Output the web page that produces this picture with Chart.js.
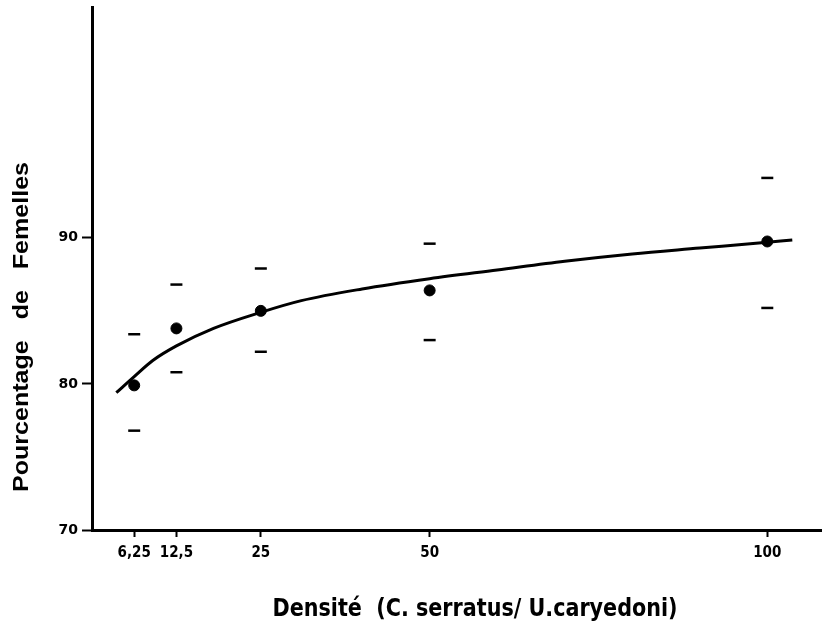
<!DOCTYPE html>
<html>
<head>
<meta charset="utf-8">
<script src="https://cdn.jsdelivr.net/npm/chart.js@4"></script>
<style>
    html, body { margin: 0; padding: 0; background: #fff; }
    #wrap { width: 822px; height: 633px; }
</style>
</head>
<body>
<div id="wrap"><canvas id="densityChart" width="822" height="633"></canvas></div>
<script>
// Densité (C. serratus / U. caryedoni) vs pourcentage de femelles
const densites = [6.25, 12.5, 25, 50, 100];
const densiteLabels = ['6,25', '12,5', '25', '50', '100'];
const femelles = [79.9, 83.8, 85.0, 86.4, 89.75];
const borneHaute = [83.4, 86.8, 87.9, 89.6, 94.1];
const borneBasse = [76.8, 80.8, 82.2, 83.0, 85.2];
const yTicks = [70, 80, 90];

// courbe d'ajustement
const courbeX = [3.6, 6.25, 9, 12.5, 18, 25, 31, 40, 50, 60, 70, 80, 90, 100, 103.7];
const courbeY = [79.4, 80.5, 81.6, 82.6, 83.8, 84.9, 85.7, 86.5, 87.2, 87.8, 88.4, 88.9, 89.3, 89.7, 89.85];

const titreX = 'Densité  (C. serratus/ U.caryedoni)';
const titreY = 'Pourcentage   de   Femelles';

const toPoints = (xs, ys) => xs.map((x, i) => ({ x: x, y: ys[i] }));

// titres des axes (police condensée, largeur ajustée comme sur la figure)
const axisTitles = {
    id: 'axisTitles',
    afterDraw(chart) {
        const c = chart.ctx;
        const area = chart.chartArea;

        c.save();
        c.fillStyle = '#000';
        c.textAlign = 'center';
        c.textBaseline = 'alphabetic';
        c.font = 'bold 24px "DejaVu Sans Condensed", "DejaVu Sans", sans-serif';
        let w = c.measureText(titreX).width;
        c.translate(area.left + 383, area.bottom + 86);
        c.scale(405 / w, 1);
        c.fillText(titreX, 0, 0);
        c.restore();

        c.save();
        c.fillStyle = '#000';
        c.textAlign = 'left';
        c.textBaseline = 'alphabetic';
        c.font = 'bold 22px "Liberation Sans", Arial, sans-serif';
        w = c.measureText(titreY).width;
        c.translate(28, area.bottom - 38);
        c.rotate(-Math.PI / 2);
        c.scale(330 / w, 1);
        c.fillText(titreY, 0, 0);
        c.restore();
    }
};

const ctx = document.getElementById('densityChart').getContext('2d');
const densityChart = new Chart(ctx, {
    type: 'scatter',
    data: {
        datasets: [
            {
                label: 'Moyenne',
                data: toPoints(densites, femelles),
                backgroundColor: '#000',
                borderColor: '#000',
                pointRadius: 5.5,
                order: 0
            },
            {
                label: 'Borne haute',
                data: toPoints(densites, borneHaute),
                pointStyle: 'line',
                pointRadius: 6,
                borderColor: '#000',
                borderWidth: 2.5,
                order: 1
            },
            {
                label: 'Borne basse',
                data: toPoints(densites, borneBasse),
                pointStyle: 'line',
                pointRadius: 6,
                borderColor: '#000',
                borderWidth: 2.5,
                order: 1
            },
            {
                label: 'Courbe',
                data: toPoints(courbeX, courbeY),
                showLine: true,
                pointRadius: 0,
                borderColor: '#000',
                borderWidth: 3,
                cubicInterpolationMode: 'monotone',
                order: 2
            }
        ]
    },
    options: {
        responsive: false,
        animation: false,
        layout: { autoPadding: false, padding: { top: 7, right: 0, left: 0, bottom: 0 } },
        plugins: {
            legend: { display: false },
            tooltip: { enabled: false }
        },
        scales: {
            x: {
                type: 'linear',
                min: 0,
                max: 108.1,
                afterBuildTicks: function (scale) {
                    scale.ticks = densites.map(v => ({ value: v }));
                },
                afterFit: function (scale) {
                    scale.height = 103;
                    scale.paddingLeft = 0;
                    scale.paddingRight = 0;
                },
                ticks: {
                    color: '#000',
                    padding: 7,
                    font: { family: '"DejaVu Sans Condensed", "DejaVu Sans"', size: 15, weight: 'bold' },
                    callback: function (value) {
                        const i = densites.indexOf(value);
                        return i >= 0 ? densiteLabels[i] : '';
                    }
                },
                grid: {
                    drawOnChartArea: false,
                    drawTicks: true,
                    tickLength: 7,
                    tickWidth: 2,
                    tickColor: '#000'
                },
                border: { display: true, color: '#000', width: 3 }
            },
            y: {
                type: 'linear',
                min: 70,
                max: 105.8,
                afterBuildTicks: function (scale) {
                    scale.ticks = yTicks.map(v => ({ value: v }));
                },
                afterFit: function (scale) {
                    scale.width = 92;
                    scale.paddingTop = 0;
                    scale.paddingBottom = 0;
                },
                ticks: {
                    color: '#000',
                    padding: 4,
                    font: { family: '"DejaVu Sans"', size: 14, weight: 'bold' }
                },
                grid: {
                    drawOnChartArea: false,
                    drawTicks: true,
                    tickLength: 10,
                    tickWidth: 2,
                    tickColor: '#000'
                },
                border: { display: true, color: '#000', width: 3 }
            }
        }
    },
    plugins: [axisTitles]
});
</script>
</body>
</html>
